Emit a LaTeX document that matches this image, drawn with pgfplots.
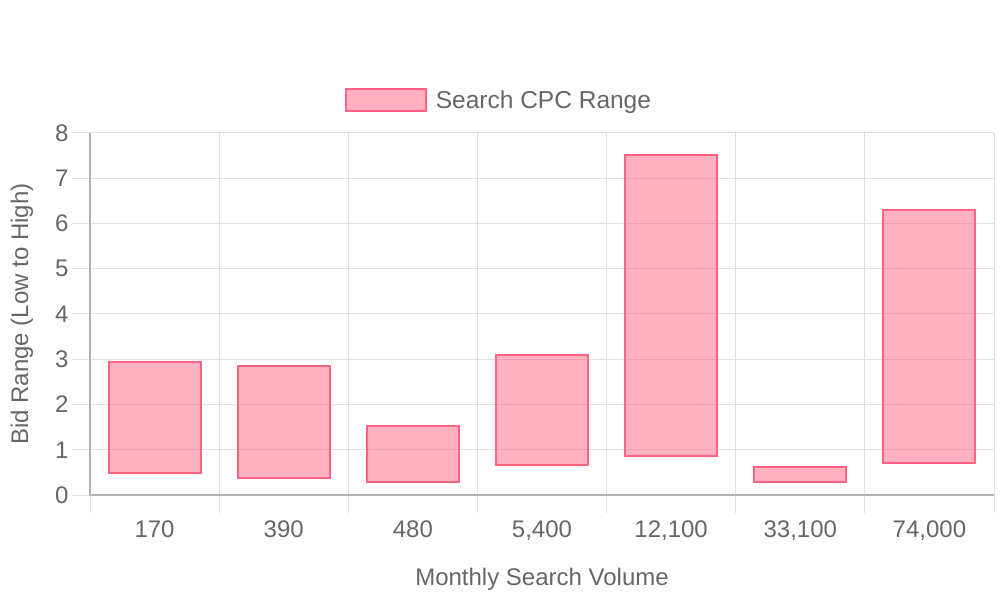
\documentclass[border=0pt]{standalone}
\usepackage{fontspec}
\setmainfont{Liberation Sans}
\usepackage{pgfplots}
\usepackage{pgfplotstable}
\pgfplotsset{compat=1.18}
\definecolor{cpcline}{RGB}{255,99,132}
\definecolor{txt}{RGB}{102,102,102}
\definecolor{gridc}{RGB}{223,223,223}
\definecolor{axisc}{RGB}{176,176,176}
\pgfplotstableread{
cat low high
0 0.49 2.94
1 0.38 2.84
2 0.28 1.53
3 0.66 3.09
4 0.87 7.52
5 0.28 0.61
6 0.70 6.30
}\cpcdata
\begin{document}
\begin{tikzpicture}
\path[use as bounding box] (0,0) rectangle (1000bp,600bp);
\begin{axis}[
  at={(90bp,105bp)}, anchor=south west,
  scale only axis, width=904bp, height=362bp,
  ybar stacked, bar width=92bp,
  xmin=-0.5, xmax=6.5, ymin=0, ymax=8,
  xtick={0,...,6},
  xticklabels={170,390,480,{5,400},{12,100},{33,100},{74,000}},
  minor xtick={-0.5,0.5,...,6.5},
  ytick={0,...,8},
  xmajorgrids=false, xminorgrids=true, ymajorgrids=true,
  grid style={gridc, line width=1bp},
  minor grid style={gridc, line width=1bp},
  axis x line*=bottom, axis y line*=left,
  axis line style={axisc, line width=1.5bp, -},
  tick align=outside,
  major tick length=18bp, minor tick length=18bp,
  tick style={gridc, line width=1bp},
  every major x tick/.append style={draw=none},
  /pgf/number format/assume math mode=true,
  tick label style={font=\fontsize{24bp}{28bp}\selectfont, text=txt},
  xticklabel style={yshift=-4bp},
  label style={font=\fontsize{24bp}{28bp}\selectfont, text=txt},
  xlabel={Monthly Search Volume},
  ylabel={Bid Range (Low to High)},
  xlabel style={at={(axis description cs:0.5,-0.232)}, anchor=center},
  ylabel style={at={(axis description cs:-0.0752,0.5)}, anchor=center},
  legend style={at={(0.4524,1.0912)}, anchor=center, draw=none, fill=none,
    font=\fontsize{24.5bp}{29bp}\selectfont, text=txt, inner sep=0pt},
  legend image code/.code={\draw[line width=2bp, draw=cpcline, fill=cpcline, fill opacity=0.5] (0bp,-11bp) rectangle (80bp,11bp); \path[draw=none, fill=none] (0bp,0bp) -- (88bp,0bp);},
]
\addplot[draw=none, fill=none, forget plot] table[x=cat, y=low] {\cpcdata};
\addplot[draw=cpcline, line width=2bp, fill=cpcline, fill opacity=0.5] table[x=cat, y expr=\thisrow{high}-\thisrow{low}] {\cpcdata};
\addlegendentry{Search CPC Range}
\end{axis}
\end{tikzpicture}
\end{document}
